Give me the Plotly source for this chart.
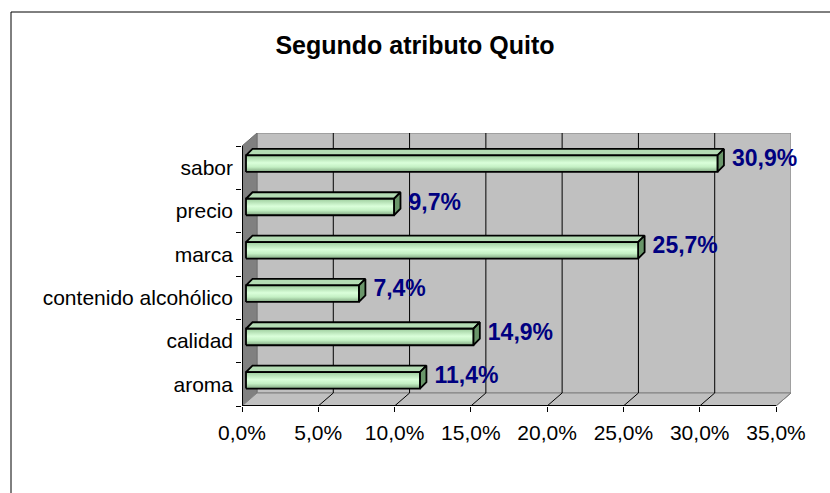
import plotly.graph_objects as go

# ---------------- data ----------------
categories = ["aroma", "calidad", "contenido alcohólico", "marca", "precio", "sabor"]
values = [0.114, 0.149, 0.074, 0.257, 0.097, 0.309]
x_ticks = [0.0, 0.05, 0.10, 0.15, 0.20, 0.25, 0.30, 0.35]
x_tick_labels = ["0,0%", "5,0%", "10,0%", "15,0%", "20,0%", "25,0%", "30,0%", "35,0%"]
title_text = "Segundo atributo Quito"

# ---------------- geometry (pixels) ----------------
W, H = 830, 493
PL, PR = 242, 791          # plot area left/right (front 0% .. back-wall right edge)
PT, PB = 133, 406          # plot area top/bottom
FRONT_W = 534              # px from 0% to 35% on the front plane
FRONT_H = 260              # px for the 6 categories on the front plane
XMAX = x_ticks[-1]
NCAT = len(categories)

sx = XMAX / FRONT_W        # data units per px (x)
sy = NCAT / FRONT_H        # data units per px (y)

x_range = [0, (PR - PL) * sx]
y_range = [-0.5, -0.5 + (PB - PT) * sy]

WDX, WDY = 15 * sx, 13 * sy          # wall depth offset
BOX, BOY = 4 * sx, 4 * sy            # bar offset from front plane
BH = 16.5 * sy                       # bar face height
BDX, BDY = 6.5 * sx, 6.5 * sy        # bar depth
GAP = 8 * sx

FONT = "Liberation Sans, Arial, sans-serif"

fig = go.Figure()
shapes = []

y0w, y1w = -0.5, NCAT - 0.5
# back wall
shapes.append(dict(type="rect", xref="x", yref="y", x0=WDX, x1=XMAX + WDX, y0=y0w + WDY, y1=y1w + WDY,
                   fillcolor="#C0C0C0", line=dict(color="#808080", width=1), layer="below"))
# left wall
shapes.append(dict(type="path", xref="x", yref="y",
                   path=f"M 0,{y0w} L {WDX},{y0w + WDY} L {WDX},{y1w + WDY} L 0,{y1w} Z",
                   fillcolor="#808080", line=dict(color="#707070", width=1), layer="below"))
# floor
shapes.append(dict(type="path", xref="x", yref="y",
                   path=f"M 0,{y0w} L {XMAX},{y0w} L {XMAX + WDX},{y0w + WDY} L {WDX},{y0w + WDY} Z",
                   fillcolor="#C0C0C0", line=dict(color="#808080", width=1), layer="below"))
# gridlines on back wall and floor
for t in x_ticks[1:-1]:
    shapes.append(dict(type="line", xref="x", yref="y", x0=t + WDX, x1=t + WDX, y0=y0w + WDY, y1=y1w + WDY,
                       line=dict(color="black", width=1), layer="below"))
for t in x_ticks[1:]:
    shapes.append(dict(type="line", xref="x", yref="y", x0=t, x1=t + WDX, y0=y0w, y1=y0w + WDY,
                       line=dict(color="black" if t < XMAX else "#808080", width=1), layer="below"))
# front axis lines
shapes.append(dict(type="line", xref="x", yref="y", x0=0, x1=XMAX, y0=y0w, y1=y0w,
                   line=dict(color="black", width=2), layer="above"))
shapes.append(dict(type="line", xref="x", yref="y", x0=0, x1=0, y0=y0w, y1=y1w,
                   line=dict(color="black", width=2), layer="above"))

# chart border (left and top)
def paper_x(px):
    return (px - PL) / (PR - PL)

def paper_y(py):
    return (PB - py) / (PB - PT)

shapes.append(dict(type="line", xref="paper", yref="paper", x0=paper_x(11), x1=paper_x(11),
                   y0=paper_y(12), y1=paper_y(H + 5), line=dict(color="black", width=1)))
shapes.append(dict(type="line", xref="paper", yref="paper", x0=paper_x(11), x1=paper_x(W + 5),
                   y0=paper_y(12), y1=paper_y(12), line=dict(color="black", width=1)))

# bars
for i, v in enumerate(values):
    x0, x1 = BOX, v + BOX
    yc = i + BOY
    y0, y1 = yc - BH / 2, yc + BH / 2
    # top face
    fig.add_trace(go.Scatter(x=[x0, x1, x1 + BDX, x0 + BDX, x0], y=[y1, y1, y1 + BDY, y1 + BDY, y1],
                             fill="toself", fillcolor="#B4DCB4", mode="lines",
                             line=dict(color="black", width=1.8), hoverinfo="skip", showlegend=False))
    # side face
    fig.add_trace(go.Scatter(x=[x1, x1 + BDX, x1 + BDX, x1, x1], y=[y0, y0 + BDY, y1 + BDY, y1, y0],
                             fill="toself", fillcolor="#6A966A", mode="lines",
                             line=dict(color="black", width=1.8), hoverinfo="skip", showlegend=False))
    # front face with gradient
    fig.add_trace(go.Scatter(x=[x0, x1, x1, x0, x0], y=[y0, y0, y1, y1, y0],
                             fill="toself", mode="lines",
                             fillgradient=dict(type="vertical",
                                               colorscale=[[0, "#7FA57F"], [0.3, "#C4F0C4"],
                                                           [0.55, "#DAFFDA"], [1, "#9CCC9C"]]),
                             line=dict(color="black", width=1.8), hoverinfo="skip", showlegend=False))

# value labels
label_x = [v + BOX + BDX + GAP for v in values]
label_y = [i + BOY + 3 * sy for i in range(NCAT)]
label_text = [f"{v * 100:.1f}".replace(".", ",") + "%" for v in values]
fig.add_trace(go.Scatter(x=label_x, y=label_y, mode="text", text=label_text, textposition="middle right",
                         textfont=dict(family=FONT, size=23, color="#000080", weight="bold"),
                         cliponaxis=False, hoverinfo="skip", showlegend=False))

fig.update_layout(
    width=W, height=H,
    margin=dict(l=PL, r=W - PR, t=PT, b=H - PB, pad=0),
    paper_bgcolor="white", plot_bgcolor="white",
    shapes=shapes,
    showlegend=False,
    title=dict(text=title_text, x=415 / W, xanchor="center", xref="container",
               y=1 - 45 / H, yanchor="middle", yref="container",
               font=dict(family=FONT, size=25, color="black", weight="bold")),
    xaxis=dict(range=x_range, showgrid=False, zeroline=False, showline=False,
               tickmode="array", tickvals=x_ticks, ticktext=x_tick_labels,
               ticks="outside", ticklen=5, tickcolor="black", tickwidth=1, ticklabelstandoff=3,
               tickfont=dict(family=FONT, size=21, color="black"), automargin=False, fixedrange=True),
    yaxis=dict(range=y_range, showgrid=False, zeroline=False, showline=False,
               tickmode="array", tickvals=list(range(NCAT)), ticktext=categories,
               ticks="", ticklabelstandoff=8,
               tickfont=dict(family=FONT, size=21, color="black"), automargin=False, fixedrange=True,
               minor=dict(tickmode="array", tickvals=[k - 0.5 for k in range(NCAT + 1)],
                          ticks="outside", ticklen=5, tickcolor="black", tickwidth=1, showgrid=False)),
)

fig.write_html("out.html", config={"displayModeBar": False},
               post_script="document.body.style.margin='0';")
